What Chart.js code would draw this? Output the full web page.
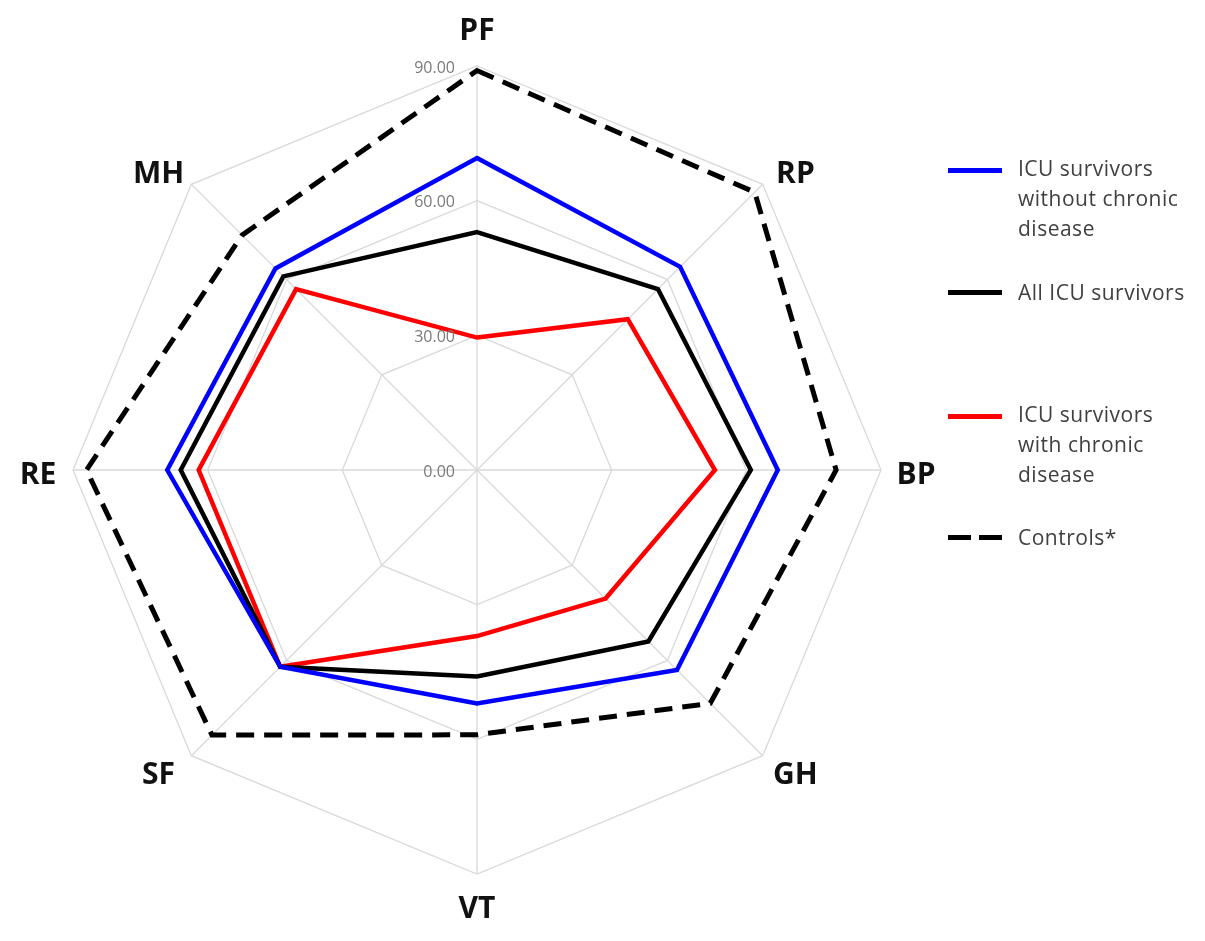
<!DOCTYPE html>
<html>
<head>
<meta charset="utf-8">
<script src="https://cdn.jsdelivr.net/npm/chart.js@4.4.0/dist/chart.umd.min.js"></script>
<style>
  html, body { margin: 0; padding: 0; background: #fff; }
  #wrap { position: relative; width: 1205px; height: 941px; }
  #chart-box { position: absolute; left: 2px; top: 0; width: 954px; height: 941px; }
  #legend { position: absolute; left: 948px; top: 0; width: 257px; font-family: "Open Sans", sans-serif; font-size: 21px; letter-spacing: 0.5px; color: #404040; }
  .item { position: absolute; left: 0; display: flex; align-items: flex-start; }
  .swatch { width: 54px; height: 5px; margin-top: 13px; margin-right: 16px; flex: none; }
  .swatch.dashed { background: linear-gradient(to right, #000 0 23px, transparent 23px 31px, #000 31px 54px) !important; }
  .txt { line-height: 30px; white-space: nowrap; }
</style>
</head>
<body>
<div id="wrap">
  <div id="chart-box"><canvas id="radar"></canvas></div>
  <div id="legend"></div>
</div>
<script>
// SF-36 domains, clockwise from top
const domains = ["PF", "RP", "BP", "GH", "VT", "SF", "RE", "MH"];
const tickValues = [0, 30, 60, 90];

const withoutChronic = [69.5, 64, 67, 63, 52, 62, 69, 63.5];
const allSurvivors = [53, 57, 61, 54, 46, 62, 66, 61];
const withChronic = [29.5, 47.5, 53, 40.5, 37, 62, 62, 57];
const controls = [89, 87.5, 80, 73.5, 59, 83.5, 87, 74];

const series = [
  { label: ["ICU survivors", "without chronic", "disease"], data: withoutChronic, color: "#0000ff", dash: [] },
  { label: ["All ICU survivors"], data: allSurvivors, color: "#000000", dash: [] },
  { label: ["ICU survivors", "with chronic", "disease"], data: withChronic, color: "#ff0000", dash: [] },
  { label: ["Controls*"], data: controls, color: "#000000", dash: [18, 10] },
];

// tick labels left of the top axis, domain names centred just outside the web
const labelPlugin = {
  id: "radarLabels",
  afterDraw(chart) {
    const scale = chart.scales.r;
    const ctx = chart.ctx;
    ctx.save();
    ctx.font = "16px 'Open Sans', sans-serif";
    ctx.fillStyle = "#7a7a7a";
    ctx.textAlign = "right";
    ctx.textBaseline = "middle";
    tickValues.forEach((v) => {
      const d = scale.getDistanceFromCenterForValue(v);
      ctx.fillText(v.toFixed(2), scale.xCenter - 22, scale.yCenter - d + 2);
    });

    ctx.font = "bold 30px 'Open Sans', sans-serif";
    ctx.fillStyle = "#111";
    ctx.textAlign = "center";
    const outer = scale.getDistanceFromCenterForValue(scale.max) + 35;
    domains.forEach((name, i) => {
      const p = scale.getPointPosition(i, outer);
      const dx = p.x - scale.xCenter;
      const dy = p.y - scale.yCenter;
      let x = p.x;
      let y = p.y;
      if (Math.abs(dx) > 5) y += 5;
      // diagonal names sit a little wider and flatter
      if (Math.abs(dx) > 5 && Math.abs(dy) > 5) {
        x += Math.sign(dx) * 8;
        y -= Math.sign(dy) * 10;
      }
      ctx.fillText(name, x, y);
    });
    ctx.restore();
  },
};

new Chart(document.getElementById("radar"), {
  type: "radar",
  data: {
    labels: domains,
    datasets: series.map((s) => ({
      label: s.label.join(" "),
      data: s.data,
      borderColor: s.color,
      backgroundColor: "transparent",
      borderWidth: s.dash.length ? 5 : 4.5,
      borderDash: s.dash,
      pointRadius: 0,
      fill: false,
      tension: 0,
    })),
  },
  options: {
    responsive: true,
    maintainAspectRatio: false,
    animation: false,
    layout: { padding: { top: 12, bottom: 12, left: 0, right: 0 } },
    plugins: { legend: { display: false }, tooltip: { enabled: false } },
    scales: {
      r: {
        min: 0,
        max: 90,
        ticks: { stepSize: 30, display: false },
        grid: { color: "#d9d9d9", lineWidth: 1.3 },
        angleLines: { color: "#d9d9d9", lineWidth: 1.3 },
        pointLabels: {
          // kept for sizing the web; drawn by the plugin above
          font: { family: "'Open Sans', sans-serif", size: 30, weight: "bold" },
          color: "rgba(0,0,0,0)",
          padding: 18,
        },
      },
    },
  },
  plugins: [labelPlugin],
});

// legend on the right
const legendTops = [153, 277, 399, 522];
const legend = document.getElementById("legend");
series.forEach((s, i) => {
  const item = document.createElement("div");
  item.className = "item";
  item.style.top = legendTops[i] + "px";
  const sw = document.createElement("div");
  sw.className = "swatch" + (s.dash.length ? " dashed" : "");
  sw.style.background = s.color;
  if (i === 0 || i === 2) sw.style.marginTop = "15px";
  const txt = document.createElement("div");
  txt.className = "txt";
  txt.innerHTML = s.label.join("<br>");
  item.appendChild(sw);
  item.appendChild(txt);
  legend.appendChild(item);
});
</script>
</body>
</html>
